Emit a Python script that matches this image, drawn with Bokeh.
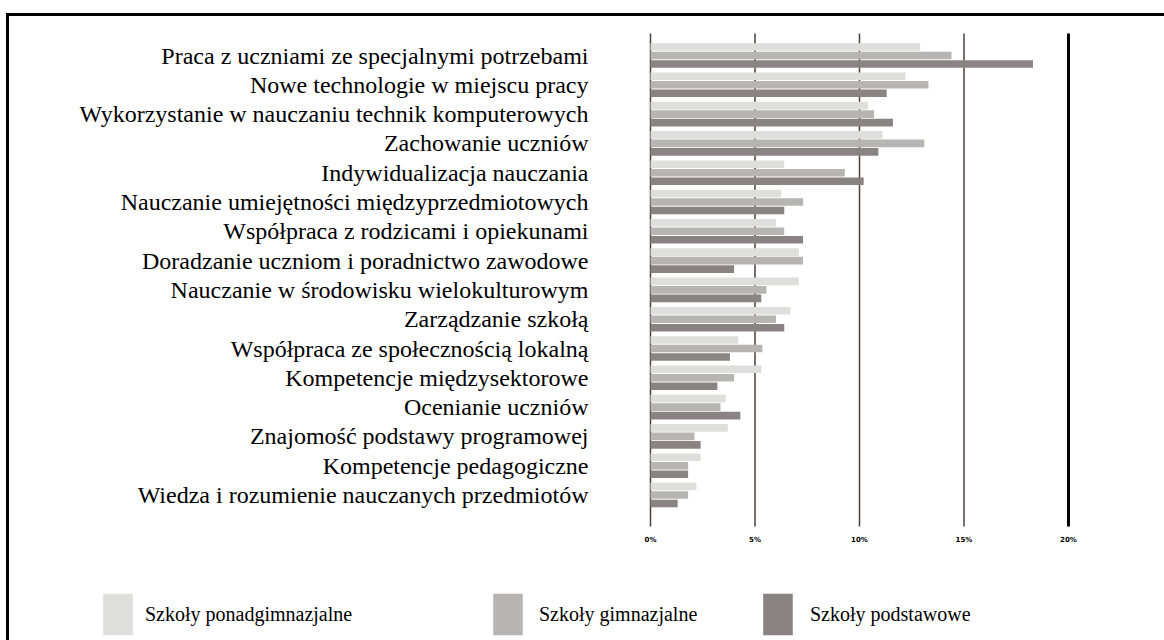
from bokeh.plotting import figure
from bokeh.layouts import column
from bokeh.models import Range1d, Legend, LegendItem, ColumnDataSource
from bokeh.core.properties import value
from bokeh.transform import dodge
from bokeh.embed import file_html
from bokeh.resources import INLINE

categories = [
    "Praca z uczniami ze specjalnymi potrzebami",
    "Nowe technologie w miejscu pracy",
    "Wykorzystanie w nauczaniu technik komputerowych",
    "Zachowanie uczniów",
    "Indywidualizacja nauczania",
    "Nauczanie umiejętności międzyprzedmiotowych",
    "Współpraca z rodzicami i opiekunami",
    "Doradzanie uczniom i poradnictwo zawodowe",
    "Nauczanie w środowisku wielokulturowym",
    "Zarządzanie szkołą",
    "Współpraca ze społecznością lokalną",
    "Kompetencje międzysektorowe",
    "Ocenianie uczniów",
    "Znajomość podstawy programowej",
    "Kompetencje pedagogiczne",
    "Wiedza i rozumienie nauczanych przedmiotów",
]
ponadgimnazjalne = [12.9, 12.2, 10.4, 11.1, 6.4, 6.25, 6.0, 7.1, 7.1, 6.7, 4.2, 5.3, 3.6, 3.7, 2.4, 2.2]
gimnazjalne = [14.4, 13.3, 10.7, 13.1, 9.3, 7.3, 6.4, 7.3, 5.55, 6.0, 5.35, 4.0, 3.35, 2.1, 1.8, 1.8]
podstawowe = [18.3, 11.3, 11.6, 10.9, 10.2, 6.4, 7.3, 4.0, 5.3, 6.4, 3.8, 3.2, 4.3, 2.4, 1.8, 1.3]
series_names = ["Szkoły ponadgimnazjalne", "Szkoły gimnazjalne", "Szkoły podstawowe"]
ticks = [0, 5, 10, 15, 20]
tick_labels = ["0%", "5%", "10%", "15%", "20%"]

colors = ["#dededc", "#b7b5b3", "#898482"]
SERIF = "Liberation Serif"

# layout constants (in axis units: % horizontally, row index vertically)
PX_PER_PCT = 20.9
PX_PER_ROW = 29.3
X0 = -641 / PX_PER_PCT          # canvas left edge
X1 = 514 / PX_PER_PCT           # canvas right edge
Y_TOP = -39 / PX_PER_ROW        # canvas top edge
Y_BOT = 585 / PX_PER_ROW        # canvas bottom edge
GRID_TOP = -0.75
GRID_BOT = 16.075
LABEL_X = -62 / PX_PER_PCT
TICK_Y = 16.55

idx = list(range(len(categories)))
source = ColumnDataSource(dict(idx=idx, a=ponadgimnazjalne, b=gimnazjalne, c=podstawowe))

p = figure(width=1155, height=624, output_backend="svg", toolbar_location=None,
           x_range=Range1d(X0, X1), y_range=Range1d(Y_BOT, Y_TOP), min_border=0)
p.axis.visible = False
p.grid.grid_line_color = None
p.outline_line_color = None
p.background_fill_color = "white"
p.border_fill_color = "white"

# grid lines
p.segment(x0=ticks[:-1], x1=ticks[:-1], y0=GRID_TOP, y1=GRID_BOT,
          line_color="#4d403a", line_width=1.5)
p.segment(x0=ticks[-1:], x1=ticks[-1:], y0=GRID_TOP, y1=GRID_BOT,
          line_color="black", line_width=3)

renderers = []
for col, off, color in zip(["a", "b", "c"], [-0.29, 0.0, 0.29], colors):
    r = p.hbar(y=dodge("idx", off, range=p.y_range), left=0, right=col, height=0.26,
               source=source, fill_color=color, line_color=None)
    renderers.append(r)

# category labels
p.text(x=LABEL_X, y=idx, text=categories, text_align="right", text_baseline="middle",
       text_font=value(SERIF), text_font_size="24px", text_color="black")

# x tick labels
p.text(x=ticks, y=TICK_Y, text=tick_labels, text_align="center", text_baseline="middle",
       text_font=value("DejaVu Sans"), text_font_size="7px", text_font_style="bold",
       text_color="black")

# legends
leg_x = [90, 480, 750]
leg_standoff = [9, 13, 14]
for r, name, lx, so in zip(renderers, series_names, leg_x, leg_standoff):
    leg = Legend(items=[LegendItem(label=name, renderers=[r])], location=(lx, 0),
                 orientation="horizontal", padding=0, margin=0, border_line_color=None,
                 background_fill_alpha=0, glyph_width=37, glyph_height=52, label_standoff=so,
                 label_text_font=SERIF, label_text_font_size="20px", label_text_color="black")
    p.add_layout(leg, "center")

layout = column(p, spacing=0, margin=(13, 0, 0, 6),
                styles={"border-left": "3px solid black", "border-top": "3px solid black"})

open("out.html", "w").write(file_html(layout, INLINE))
